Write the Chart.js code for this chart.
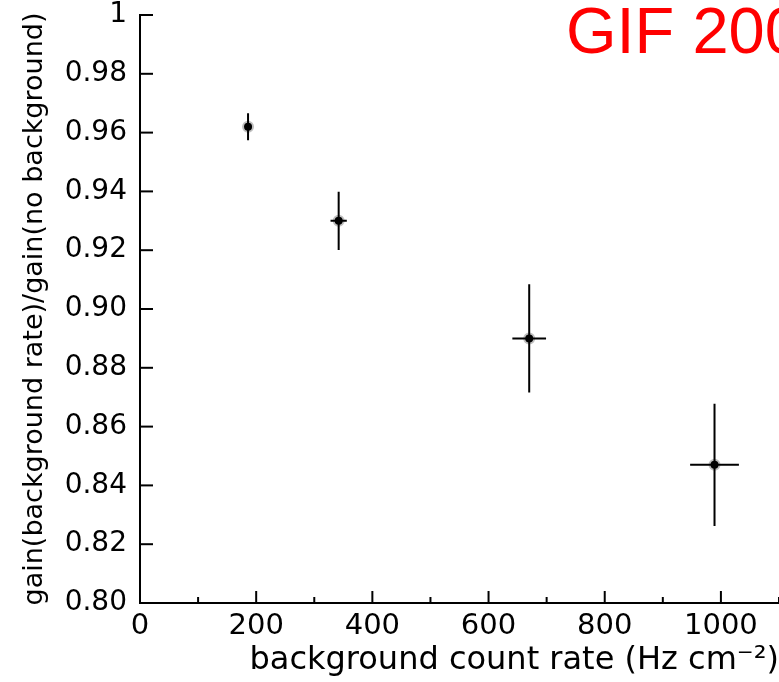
<!DOCTYPE html>
<html>
<head>
<meta charset="utf-8">
<script src="https://cdn.jsdelivr.net/npm/chart.js@4/dist/chart.umd.min.js"></script>
<style>
  body { margin: 0; background: #fff; }
  canvas { display: block; }
</style>
</head>
<body>
<canvas id="myChart" width="779" height="682"></canvas>
<script>
// background count rate (Hz cm^-2) and gain ratio, with errors
var rates = [186, 342, 670, 989];
var rateErr = [3, 14, 29, 42];
var ratios = [0.962, 0.930, 0.890, 0.847];
var ratioErr = [0.0046, 0.0099, 0.0184, 0.0208];

var xMinorTicks = [0, 100, 200, 300, 400, 500, 600, 700, 800, 900, 1000, 1100];
var yTicks = [0.80, 0.82, 0.84, 0.86, 0.88, 0.90, 0.92, 0.94, 0.96, 0.98, 1];

var points = rates.map(function (r, i) { return { x: r, y: ratios[i] }; });

// error bars + inward tick marks + red stamp
var extras = {
  id: 'extras',
  afterDatasetsDraw: function (chart) {
    var c = chart.ctx, xs = chart.scales.x, ys = chart.scales.y;
    c.save();
    c.strokeStyle = '#000';
    c.lineWidth = 2;
    rates.forEach(function (r, i) {
      var px = xs.getPixelForValue(r), py = ys.getPixelForValue(ratios[i]);
      c.beginPath();
      c.moveTo(px, ys.getPixelForValue(ratios[i] + ratioErr[i]));
      c.lineTo(px, ys.getPixelForValue(ratios[i] - ratioErr[i]));
      c.moveTo(xs.getPixelForValue(r - rateErr[i]), py);
      c.lineTo(xs.getPixelForValue(r + rateErr[i]), py);
      c.stroke();
    });
    // x ticks (major every 200, minor at odd hundreds)
    var base = ys.getPixelForValue(0.80);
    xMinorTicks.forEach(function (v) {
      var px = xs.getPixelForValue(v);
      var len = (v % 200 === 0) ? 12 : 6;
      c.beginPath();
      c.moveTo(px, base);
      c.lineTo(px, base - len);
      c.stroke();
    });
    var left = xs.getPixelForValue(0);
    yTicks.forEach(function (v) {
      var py = ys.getPixelForValue(v);
      c.beginPath();
      c.moveTo(left, py);
      c.lineTo(left + 13, py);
      c.stroke();
    });
    c.fillStyle = '#ff0000';
    c.font = '65px "Liberation Sans", Arial, sans-serif';
    c.textBaseline = 'alphabetic';
    c.fillText('GIF 200', 566, 53);
    c.restore();
  }
};

var ctx = document.getElementById('myChart').getContext('2d');
var myChart = new Chart(ctx, {
  type: 'scatter',
  data: {
    datasets: [{
      label: 'gain ratio',
      data: points,
      backgroundColor: '#000',
      borderColor: 'rgba(0,0,0,0.25)',
      borderWidth: 4,
      pointRadius: 4,
      showLine: false
    }]
  },
  plugins: [extras],
  options: {
    responsive: false,
    animation: false,
    layout: { autoPadding: false, padding: { top: 15, right: 0, left: 0, bottom: 0 } },
    plugins: {
      legend: { display: false },
      tooltip: { enabled: false }
    },
    scales: {
      x: {
        type: 'linear',
        min: 0,
        max: 1100,
        afterFit: function (s) { s.height = 79; s.paddingLeft = 0; s.paddingRight = 0; },
        border: { display: true, color: '#000', width: 2 },
        grid: { display: true, drawOnChartArea: false, drawTicks: false },
        ticks: {
          stepSize: 200,
          includeBounds: false,
          padding: 6,
          color: '#000',
          font: { family: '"DejaVu Sans", sans-serif', size: 29 },
          maxRotation: 0,
          autoSkip: false,
          callback: function (v) { return String(v); }
        },
        title: {
          display: true,
          text: 'background count rate (Hz cm\u207B\u00B2)',
          align: 'end',
          color: '#000',
          font: { family: '"DejaVu Sans", sans-serif', size: 32 },
          padding: { top: 0, bottom: 2 }
        }
      },
      y: {
        min: 0.8,
        max: 1,
        afterFit: function (s) { s.width = 140; s.paddingTop = 0; s.paddingBottom = 0; },
        border: { display: true, color: '#000', width: 2 },
        grid: { display: true, drawOnChartArea: false, drawTicks: false },
        ticks: {
          stepSize: 0.02,
          padding: 13,
          color: '#000',
          font: { family: '"DejaVu Sans", sans-serif', size: 28 },
          callback: function (v) {
            return Math.abs(v - 1) < 1e-9 ? '1' : v.toFixed(2);
          }
        },
        title: {
          display: true,
          text: 'gain(background rate)/gain(no background)',
          color: '#000',
          font: { family: '"DejaVu Sans", sans-serif', size: 27 },
          padding: { top: 19, bottom: 0 }
        }
      }
    }
  }
});
</script>
</body>
</html>
